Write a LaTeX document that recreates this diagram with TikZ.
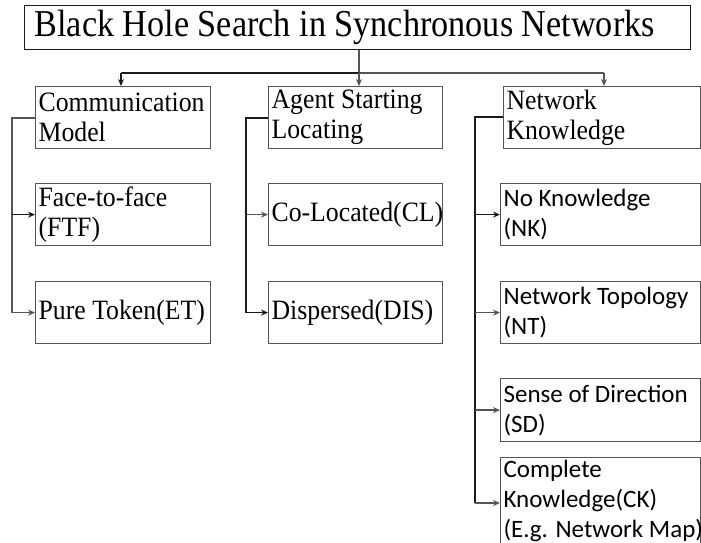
\documentclass[tikz,border=0pt]{standalone}
\usepackage{fontspec}
\setmainfont[FakeStretch=0.92]{Liberation Serif}
\newfontfamily\titlefont[FakeStretch=0.9]{Liberation Serif}
\newfontfamily\calfont{Carlito}
\usetikzlibrary{arrows.meta}
\definecolor{lg}{HTML}{555555}
\definecolor{dk}{HTML}{1A1A1A}
\newcommand{\ml}[1]{\mbox{#1}}
\tikzset{
  box/.style={draw=lg, line width=1.2pt, rectangle, anchor=north west, inner xsep=3pt, inner ysep=0pt, align=flush left},
  sbox/.style={box, font=\fontsize{28}{30}\selectfont},
  cbox/.style={box, font=\calfont\fontsize{25}{30}\selectfont},
  conn/.style={line width=1.4pt, draw=#1, -{Stealth[length=7pt,width=6pt]}},
  conn/.default=lg,
  plain/.style={line width=1.4pt, draw=#1},
  plain/.default=lg,
}
\begin{document}
\begin{tikzpicture}[x=1pt,y=-1pt]
\useasboundingbox (0,0) rectangle (701,542);
\clip (0,0) rectangle (701,542);
% title
\node[box, draw=dk, inner xsep=10pt, text width=646pt, minimum height=44pt, font=\titlefont\fontsize{38}{40}\selectfont] (title) at (24,5) {\ml{Black Hole Search in Synchronous Networks}};
% level 1
\node[sbox, text width=169pt, minimum height=62pt] (comm) at (35,86) {\ml{Communication}\\\ml{Model}};
\node[sbox, text width=168pt, minimum height=62pt] (agent) at (268,86) {\ml{Agent Starting}\\\ml{Locating}};
\node[sbox, text width=191pt, minimum height=62pt] (nk) at (503,86) {\ml{Network}\\\ml{Knowledge}};
% level 2 comm
\node[sbox, text width=169pt, minimum height=62pt] (ftf) at (35,183) {\ml{Face-to-face}\\\ml{(FTF)}};
\node[sbox, text width=169pt, minimum height=62pt] (et) at (35,281) {\ml{Pure Token(ET)}};
% level 2 agent
\node[sbox, text width=168pt, minimum height=62pt] (cl) at (268,183) {\ml{Co-Located(CL)}};
\node[sbox, text width=168pt, minimum height=62pt] (dis) at (268,281) {\ml{Dispersed(DIS)}};
% level 2 nk
\node[cbox, text width=194pt, minimum height=62pt] (nok) at (500,183) {\ml{No Knowledge}\\\ml{(NK)}};
\node[cbox, text width=194pt, minimum height=62pt] (nt) at (500,281) {\ml{Network Topology}\\\ml{(NT)}};
\node[cbox, text width=194pt, minimum height=63pt] (sd) at (500,378) {\ml{Sense of Direction}\\\ml{(SD)}};
\node[cbox, text width=194pt, inner ysep=3pt] (ck) at (500,457) {\ml{Complete}\\\ml{Knowledge(CK)}\\\ml{(E.g. Network Map)}\\\mbox{}};
% coordinates
\coordinate (hl) at (121,73);
\coordinate (hm) at (359,73);
\coordinate (hr) at (604,73);
\coordinate (cs) at (12,118);
\coordinate (as) at (246,118);
\coordinate (ns) at (475,117);
% top connectors
\draw[plain] (title.south -| hm) -- (hm);
\draw[plain=dk] (hm) -- (hl);
\draw[plain] (hm) -- (hr);
\draw[conn=dk] (hl) -- (comm.north -| hl);
\draw[conn] (hm) -- (agent.north -| hm);
\draw[conn] (hr) -- (nk.north -| hr);
% comm spine
\draw[plain] (comm.west |- cs) -- (cs) -- (cs |- et.west);
\draw[conn=dk] (cs |- ftf.west) -- (ftf.west);
\draw[conn] (cs |- et.west) -- (et.west);
% agent spine
\draw[plain=dk] (agent.west |- as) -- (as) -- (as |- dis.west);
\draw[conn] (as |- cl.west) -- (cl.west);
\draw[conn=dk] (as |- dis.west) -- (dis.west);
% nk spine
\coordinate (ckin) at (500,503);
\draw[plain=dk] (nk.west |- ns) -- (ns) -- (ns |- ckin);
\draw[conn=dk] (ns |- nok.west) -- (nok.west);
\draw[conn] (ns |- nt.west) -- (nt.west);
\draw[conn] (ns |- sd.west) -- (sd.west);
\draw[conn] (ns |- ckin) -- (ckin);
\end{tikzpicture}
\end{document}
